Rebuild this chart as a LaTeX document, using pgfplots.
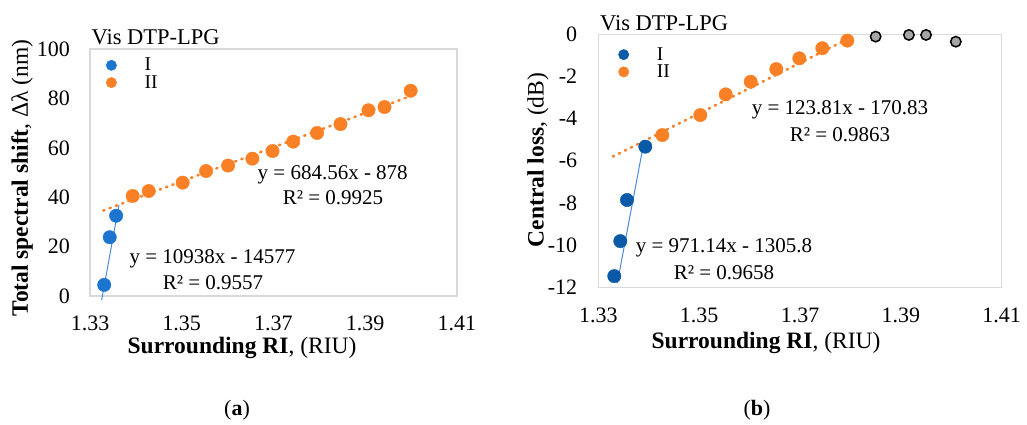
\documentclass[border=0pt]{standalone}
\usepackage{pgfplots}
\pgfplotsset{compat=1.18}
\usepackage{fontspec}
\setmainfont{Liberation Serif}
\definecolor{bluea}{RGB}{27,117,208}
\definecolor{blueb}{RGB}{10,90,168}
\definecolor{bluetl}{RGB}{70,140,220}
\definecolor{orng}{RGB}{250,128,38}
\definecolor{grayp}{RGB}{165,165,165}
\definecolor{boxc}{RGB}{217,217,217}
\pgfplotsset{
  mystyle/.style={
    scale only axis, clip=false,
    axis line style={draw=boxc, line width=1.2pt},
    major tick length=0pt,
    xmin=1.33, xmax=1.41,
    xtick={1.33,1.35,1.37,1.39,1.41},
    xticklabels={1.33,1.35,1.37,1.39,1.41},
    tick label style={font=\fontsize{22}{24}\selectfont},
    /pgf/number format/assume math mode=true,
    legend style={draw=none, fill=none, inner sep=0pt, font=\fontsize{19.5}{20}\selectfont,
      row sep=3pt, column sep=28pt, nodes={inner sep=0pt}},
    legend cell align=left,
    legend image code/.code={\draw[##1, only marks, mark size=5.2pt] plot coordinates {(0pt,0pt)};},
  }
}
\begin{document}
\begin{tikzpicture}[x=1pt,y=1pt]
\path[use as bounding box] (0,0) rectangle (1027,425);
% ---------------- (a)
\begin{axis}[mystyle,
  at={(90pt,129pt)}, anchor=south west,
  width=367pt, height=247pt,
  ymin=0, ymax=100, ytick={0,20,40,60,80,100},
  xticklabel style={anchor=center, yshift=-27pt, inner sep=0pt},
  yticklabel style={anchor=east, xshift=-20pt, inner sep=0pt},
  legend style={at={(rel axis cs:0,1)}, anchor=north west, xshift=16pt, yshift=-9pt},
]
\addplot[only marks, mark=*, mark size=6.7pt, color=bluea] coordinates {
(1.3331,4.5)(1.3343,23.8)(1.3357,32.5)};
\addlegendentry{I}
\addplot[only marks, mark=*, mark size=6.7pt, color=orng] coordinates {
(1.3393,40.5)(1.3428,42.5)(1.3502,45.9)(1.3553,50.6)(1.3601,52.8)(1.3654,55.6)
(1.3698,58.7)(1.3743,62.5)(1.3795,66.0)(1.3846,69.6)(1.3907,75.2)(1.3942,76.5)(1.3999,83.1)};
\addlegendentry{II}
\addplot[color=bluetl, line width=1pt, forget plot] coordinates {(1.33254,-1.6)(1.3363,36.8)};
\addplot[color=orng, line width=2.6pt, line cap=round, dash pattern=on 1.2pt off 5.5pt, forget plot] coordinates {(1.3329,34.6)(1.4000,81.0)};
\end{axis}
% ---------------- (b)
\begin{axis}[mystyle,
  at={(598.3pt,137.7pt)}, anchor=south west,
  width=403.4pt, height=253pt,
  ymin=-12, ymax=0, ytick={-12,-10,-8,-6,-4,-2,0},
  yticklabels={-12,-10,-8,-6,-4,-2,0},
  xticklabel style={anchor=center, yshift=-28pt, inner sep=0pt},
  yticklabel style={anchor=east, xshift=-21pt, inner sep=0pt},
  legend style={at={(rel axis cs:0,1)}, anchor=north west, xshift=20pt, yshift=-13pt},
]
\addplot[only marks, mark=*, mark size=6.7pt, color=blueb] coordinates {
(1.33317,-11.47)(1.33436,-9.81)(1.33569,-7.86)(1.33932,-5.33)};
\addlegendentry{I}
\addplot[only marks, mark=*, mark size=6.7pt, color=orng] coordinates {
(1.34269,-4.78)(1.35023,-3.83)(1.35526,-2.85)(1.36022,-2.25)(1.3653,-1.65)(1.36986,-1.14)(1.37442,-0.66)(1.37938,-0.30)};
\addlegendentry{II}
\addplot[only marks, mark=*, mark size=5.2pt, mark options={fill=grayp, draw=black, line width=1.5pt}, forget plot] coordinates {
(1.3850,-0.11)(1.3916,-0.03)(1.3950,-0.03)(1.4009,-0.35)};
\addplot[color=bluetl, line width=1pt, forget plot] coordinates {(1.33377,-11.8)(1.33906,-5.1)};
\addplot[color=orng, line width=2.6pt, line cap=round, dash pattern=on 1.2pt off 5.5pt, forget plot] coordinates {(1.3329,-5.8)(1.3797,-0.2)};
\end{axis}
% ---------------- text
\node[anchor=base west, inner sep=0pt, font=\fontsize{22.5}{24}\selectfont] at (91.5,380) {Vis DTP-LPG};
\node[anchor=base west, inner sep=0pt, font=\fontsize{22.5}{24}\selectfont] at (600,394.3) {Vis DTP-LPG};
\node[rotate=90, inner sep=0pt, font=\fontsize{23.5}{25}\selectfont] at (22,247) {\textbf{Total spectral shift}, Δλ (nm)};
\node[rotate=90, inner sep=0pt, font=\fontsize{23.5}{25}\selectfont] at (538,265) {\textbf{Central loss}, (dB)};
\node[inner sep=0pt, font=\fontsize{23.5}{25}\selectfont] at (242,77) {\textbf{Surrounding RI}, (RIU)};
\node[inner sep=0pt, font=\fontsize{23.5}{25}\selectfont] at (766,82) {\textbf{Surrounding RI}, (RIU)};
\node[inner sep=0pt, font=\fontsize{22}{24}\selectfont] at (237,15) {(\textbf{a})};
\node[inner sep=0pt, font=\fontsize{22}{24}\selectfont] at (757,15) {(\textbf{b})};
\begin{scope}[every node/.style={inner sep=0pt, font=\fontsize{21}{23}\selectfont}]
\node at (332.7,250) {y = 684.56x - 878};
\node at (333,227) {R² = 0.9925};
\node at (212.5,166) {y = 10938x - 14577};
\node at (213,142) {R² = 0.9557};
\node at (840,315) {y = 123.81x - 170.83};
\node at (840,290) {R² = 0.9863};
\node at (724,177) {y = 971.14x - 1305.8};
\node at (724,152) {R² = 0.9658};
\end{scope}
\end{tikzpicture}
\end{document}
